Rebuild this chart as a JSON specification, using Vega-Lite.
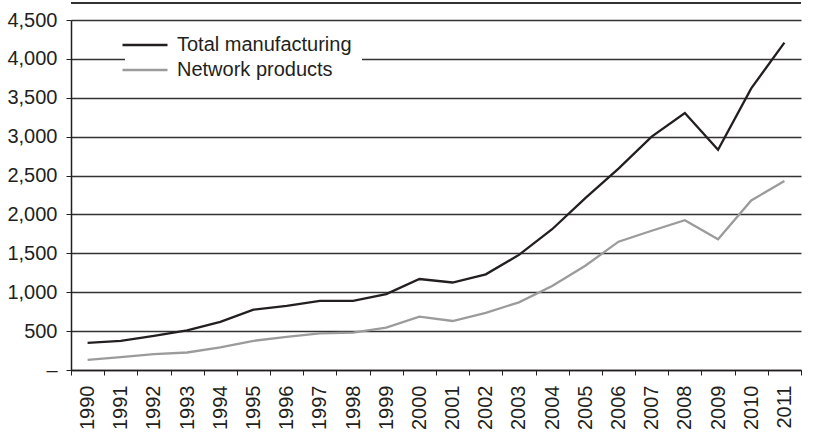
{
  "$schema": "https://vega.github.io/schema/vega-lite/v6.json",
  "width": 730,
  "height": 350,
  "autosize": {"type": "none"},
  "padding": {"left": 71, "top": 20, "right": 17, "bottom": 71},
  "background": "white",
  "config": {"view": {"stroke": null}, "font": "Liberation Sans"},
  "data": {
    "values": [
      {"year": "1990", "series": "Total manufacturing", "value": 350},
      {"year": "1991", "series": "Total manufacturing", "value": 375},
      {"year": "1992", "series": "Total manufacturing", "value": 440},
      {"year": "1993", "series": "Total manufacturing", "value": 510},
      {"year": "1994", "series": "Total manufacturing", "value": 620},
      {"year": "1995", "series": "Total manufacturing", "value": 775},
      {"year": "1996", "series": "Total manufacturing", "value": 825},
      {"year": "1997", "series": "Total manufacturing", "value": 890},
      {"year": "1998", "series": "Total manufacturing", "value": 890},
      {"year": "1999", "series": "Total manufacturing", "value": 975},
      {"year": "2000", "series": "Total manufacturing", "value": 1170},
      {"year": "2001", "series": "Total manufacturing", "value": 1125},
      {"year": "2002", "series": "Total manufacturing", "value": 1230},
      {"year": "2003", "series": "Total manufacturing", "value": 1480},
      {"year": "2004", "series": "Total manufacturing", "value": 1810},
      {"year": "2005", "series": "Total manufacturing", "value": 2210},
      {"year": "2006", "series": "Total manufacturing", "value": 2590},
      {"year": "2007", "series": "Total manufacturing", "value": 3000},
      {"year": "2008", "series": "Total manufacturing", "value": 3305},
      {"year": "2009", "series": "Total manufacturing", "value": 2830},
      {"year": "2010", "series": "Total manufacturing", "value": 3620},
      {"year": "2011", "series": "Total manufacturing", "value": 4210},
      {"year": "1990", "series": "Network products", "value": 130},
      {"year": "1991", "series": "Network products", "value": 165},
      {"year": "1992", "series": "Network products", "value": 205},
      {"year": "1993", "series": "Network products", "value": 225},
      {"year": "1994", "series": "Network products", "value": 290},
      {"year": "1995", "series": "Network products", "value": 375},
      {"year": "1996", "series": "Network products", "value": 425},
      {"year": "1997", "series": "Network products", "value": 470},
      {"year": "1998", "series": "Network products", "value": 480},
      {"year": "1999", "series": "Network products", "value": 545},
      {"year": "2000", "series": "Network products", "value": 685},
      {"year": "2001", "series": "Network products", "value": 630},
      {"year": "2002", "series": "Network products", "value": 735},
      {"year": "2003", "series": "Network products", "value": 870},
      {"year": "2004", "series": "Network products", "value": 1080},
      {"year": "2005", "series": "Network products", "value": 1340},
      {"year": "2006", "series": "Network products", "value": 1650},
      {"year": "2007", "series": "Network products", "value": 1790},
      {"year": "2008", "series": "Network products", "value": 1925},
      {"year": "2009", "series": "Network products", "value": 1680},
      {"year": "2010", "series": "Network products", "value": 2180},
      {"year": "2011", "series": "Network products", "value": 2430}
    ]
  },
  "layer": [
    {
      "mark": {"type": "line", "strokeWidth": 2.3},
      "encoding": {
        "x": {
          "field": "year",
          "type": "ordinal",
          "scale": {"type": "band", "paddingInner": 0, "paddingOuter": 0},
          "axis": {
            "title": null,
            "grid": false,
            "tickBand": "extent",
            "tickSize": 5,
            "tickColor": "#231f20",
            "domainColor": "#231f20",
            "domainWidth": 1.5,
            "labelAngle": 270,
            "labelAlign": "right",
            "labelBaseline": "middle",
            "labelPadding": 10,
            "labelFontSize": 20,
            "labelOverlap": false,
            "labelColor": "#231f20"
          }
        },
        "y": {
          "field": "value",
          "type": "quantitative",
          "scale": {"domain": [0, 4500], "nice": false},
          "axis": {
            "title": null,
            "values": [0, 500, 1000, 1500, 2000, 2500, 3000, 3500, 4000, 4500],
            "labelExpr": "datum.value === 0 ? '–' : format(datum.value, ',')",
            "labelOverlap": false,
            "grid": true,
            "gridColor": "#333333",
            "gridWidth": 1.3,
            "tickSize": 5,
            "tickColor": "#231f20",
            "domainColor": "#231f20",
            "domainWidth": 1.5,
            "labelPadding": 9,
            "labelFontSize": 20,
            "labelColor": "#231f20"
          }
        },
        "color": {
          "field": "series",
          "type": "nominal",
          "scale": {
            "domain": ["Total manufacturing", "Network products"],
            "range": ["#231f20", "#9b9b9b"]
          },
          "legend": {
            "title": null,
            "orient": "none",
            "legendX": 54,
            "legendY": 5,
            "fillColor": "white",
            "padding": 10,
            "symbolType": "M-3,0H3",
            "symbolSize": 225,
            "symbolStrokeWidth": 2.5,
            "labelFontSize": 20,
            "labelLimit": 0,
            "labelColor": "#231f20",
            "labelOffset": 22,
            "rowPadding": 5
          }
        }
      }
    },
    {
      "mark": {"type": "rule", "color": "#333333", "strokeWidth": 1.5},
      "encoding": {
        "y": {
          "datum": 4718,
          "type": "quantitative",
          "axis": {
            "title": null,
            "values": [0, 500, 1000, 1500, 2000, 2500, 3000, 3500, 4000, 4500],
            "labelExpr": "datum.value === 0 ? '–' : format(datum.value, ',')",
            "labelOverlap": false,
            "grid": true,
            "gridColor": "#333333",
            "gridWidth": 1.3,
            "tickSize": 5,
            "tickColor": "#231f20",
            "domainColor": "#231f20",
            "domainWidth": 1.5,
            "labelPadding": 9,
            "labelFontSize": 20,
            "labelColor": "#231f20"
          }
        }
      }
    }
  ]
}
